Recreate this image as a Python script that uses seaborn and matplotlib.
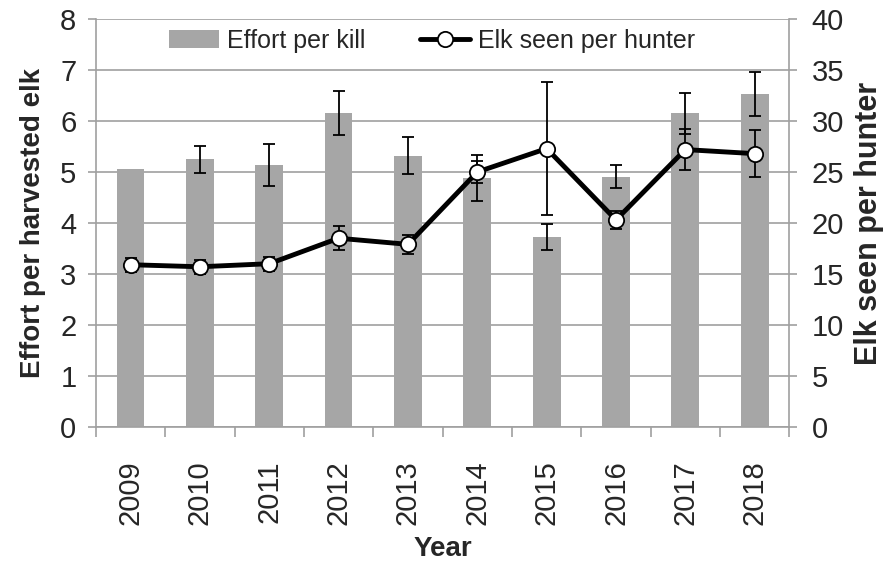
import numpy as np
import pandas as pd
import matplotlib
matplotlib.use("Agg")
import matplotlib.pyplot as plt
from matplotlib.patches import Patch
from matplotlib.lines import Line2D
import seaborn as sns

# Hunter survey summary by year
years = ["2009", "2010", "2011", "2012", "2013", "2014", "2015", "2016", "2017", "2018"]
effort_per_kill = [5.06, 5.25, 5.13, 6.16, 5.32, 4.88, 3.72, 4.91, 6.15, 6.53]
effort_err = [0.0, 0.27, 0.41, 0.43, 0.36, 0.45, 0.26, 0.23, 0.40, 0.44]
elk_seen = [15.9, 15.7, 16.0, 18.5, 17.9, 25.0, 27.3, 20.3, 27.2, 26.8]
elk_err = [0.7, 0.7, 0.7, 1.2, 0.9, 1.05, 6.5, 0.9, 2.0, 2.3]

left_ticks = [0, 1, 2, 3, 4, 5, 6, 7, 8]
right_ticks = [0, 5, 10, 15, 20, 25, 30, 35, 40]

sns.set_theme(style="white")
plt.rcParams["font.family"] = ["Liberation Sans", "DejaVu Sans"]

GRID = "#A0A0A0"
BAR = "#A6A6A6"
TICK_FS = 21
LABEL_FS = 20
LEGEND_FS = 18

df = pd.DataFrame({"year": years, "effort": effort_per_kill})
pos = np.arange(len(years))

fig = plt.figure(figsize=(8.96, 5.63), dpi=100)
ax = fig.add_axes([0.107, 0.242, 0.774, 0.724])

sns.barplot(data=df, x="year", y="effort", color=BAR, saturation=1,
            width=0.4, ax=ax, zorder=2)
for p in ax.patches:
    p.set_edgecolor("none")

# error bars only where a spread was reported
eff = np.array(effort_per_kill)
eerr = np.array(effort_err)
has_err = eerr > 0
ax.errorbar(pos[has_err], eff[has_err], yerr=eerr[has_err], fmt="none",
            ecolor="black", elinewidth=1.3, capsize=4.5, capthick=1.3, zorder=3)

ax.set_ylim(0, 8)
ax.set_xlim(-0.5, len(years) - 0.5)
ax.set_yticks(left_ticks)
ax.set_yticklabels([str(t) for t in left_ticks], fontsize=TICK_FS)
ax.yaxis.grid(True, color=GRID, linewidth=1.2)
ax.set_axisbelow(True)

# category labels centred, tick marks at category boundaries
ax.set_xticks(pos)
ax.set_xticklabels(years, rotation=90, fontsize=TICK_FS)
ax.tick_params(axis="x", which="major", length=0, pad=24)
ax.set_xticks(np.arange(-0.5, len(years), 1.0), minor=True)
ax.tick_params(axis="x", which="minor", length=7, width=1.2, color=GRID,
               direction="out", bottom=True)
ax.tick_params(axis="y", length=6, width=1.2, color=GRID, direction="out",
               left=True, pad=8)

ax.set_xlabel("Year", fontsize=LABEL_FS, fontweight="bold", labelpad=8)
ax.set_ylabel("Effort per harvested elk", fontsize=LABEL_FS,
              fontweight="bold", labelpad=10)

for side in ["left", "bottom"]:
    ax.spines[side].set_color(GRID)
    ax.spines[side].set_linewidth(1.2)
for side in ["top", "right"]:
    ax.spines[side].set_visible(False)

ax2 = ax.twinx()
ax2.errorbar(pos, elk_seen, yerr=elk_err, fmt="none", ecolor="black",
             elinewidth=1.3, capsize=4.5, capthick=1.3, zorder=3)
sns.lineplot(x=pos, y=elk_seen, ax=ax2, color="black", linewidth=3.5,
             marker="o", markersize=11, markerfacecolor="white",
             markeredgecolor="black", markeredgewidth=1.3, zorder=4)
ax2.set_ylim(0, 40)
ax2.set_yticks(right_ticks)
ax2.set_yticklabels([str(t) for t in right_ticks], fontsize=TICK_FS)
ax2.tick_params(axis="y", length=6, width=1.2, color=GRID, direction="out",
                right=True, pad=10)
ax2.set_ylabel("Elk seen per hunter", fontsize=22, fontweight="bold",
              labelpad=7)
ax2.spines["right"].set_color(GRID)
ax2.spines["right"].set_linewidth(1.2)
for side in ["top", "left", "bottom"]:
    ax2.spines[side].set_visible(False)
ax2.grid(False)

handles = [
    Patch(facecolor=BAR, edgecolor="none"),
    Line2D([0], [0], color="black", linewidth=3.5, marker="o", markersize=11,
           markerfacecolor="white", markeredgecolor="black",
           markeredgewidth=1.3),
]
ax2.legend(handles, ["Effort per kill", "Elk seen per hunter"], ncol=2,
           loc="center", bbox_to_anchor=(0.485, 0.947), frameon=False,
           fontsize=LEGEND_FS, handlelength=2.0, handletextpad=0.3,
           columnspacing=2.2, borderpad=0.1)

fig.savefig("out.png", dpi=100, facecolor="white")
